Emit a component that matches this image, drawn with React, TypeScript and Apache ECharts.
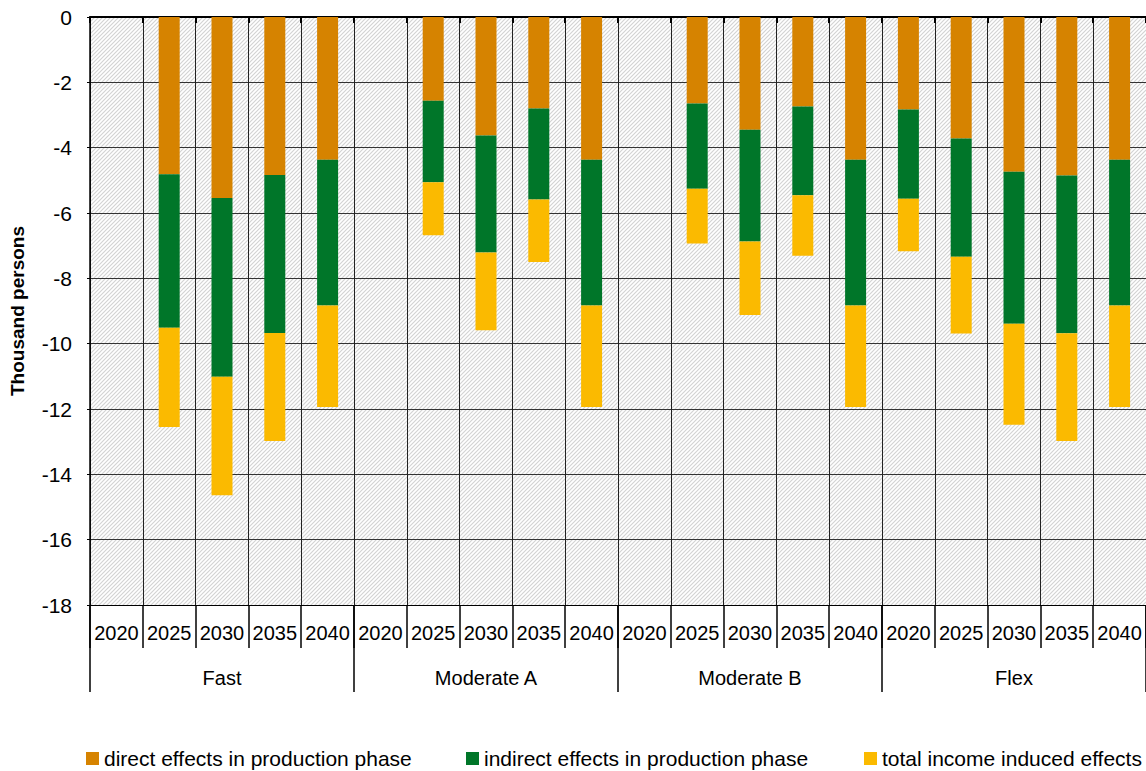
import React, { useEffect, useRef } from 'react';
import * as echarts from 'echarts';

const groups = ['Fast', 'Moderate A', 'Moderate B', 'Flex'];
const years = ['2020', '2025', '2030', '2035', '2040'];

const directEffects = [
  0, -4.81, -5.54, -4.84, -4.37,
  0, -2.56, -3.63, -2.8, -4.37,
  0, -2.65, -3.45, -2.74, -4.37,
  -2.83, -3.72, -4.74, -4.85, -4.37,
];
const indirectEffects = [
  0, -4.7, -5.47, -4.83, -4.46,
  0, -2.5, -3.58, -2.79, -4.46,
  0, -2.61, -3.42, -2.72, -4.46,
  -2.73, -3.62, -4.65, -4.83, -4.46,
];
const inducedEffects = [
  0, -3.04, -3.63, -3.31, -3.11,
  0, -1.62, -2.38, -1.91, -3.11,
  0, -1.67, -2.25, -1.85, -3.11,
  -1.61, -2.35, -3.09, -3.3, -3.11,
];

const seriesNames = [
  'direct effects in production phase',
  'indirect effects in production phase',
  'total income induced effects',
];
const seriesColors = ['#D68300', '#007629', '#FBBA00'];

const yMin = -18;
const yMax = 0;
const yStep = 2;

const FONT = 'Liberation Sans, Arial, sans-serif';

const hatchSvg =
  "<svg xmlns='http://www.w3.org/2000/svg' width='4' height='4'>" +
  "<rect width='4' height='4' fill='white'/>" +
  "<path d='M-1,1 L1,-1 M0,4 L4,0 M3,5 L5,3' stroke='#d2d2d2' stroke-width='1.1'/></svg>";
const hatchUrl = 'data:image/svg+xml;utf8,' + encodeURIComponent(hatchSvg);

export default function App() {
  const ref = useRef<HTMLDivElement>(null);

  useEffect(() => {
    if (!ref.current) return;
    const chart = echarts.init(ref.current, null, { renderer: 'svg' });

    const cats: string[] = [];
    groups.forEach((g) => years.forEach((y) => cats.push(g + '|' + y)));

    const gridLeft = 90;
    const gridTop = 17;
    const gridBottom = 166;
    const W = 1146;
    const H = 771;

    const dataSets = [directEffects, indirectEffects, inducedEffects];

    chart.setOption({
      animation: false,
      backgroundColor: '#ffffff',
      grid: {
        left: gridLeft,
        right: 0,
        top: gridTop,
        bottom: gridBottom,
        containLabel: false,
        outerBoundsMode: 'none',
      },
      graphic: [
        {
          type: 'rect',
          z: -1,
          silent: true,
          shape: { x: gridLeft, y: gridTop, width: W - gridLeft, height: H - gridTop - gridBottom },
          style: { fill: { image: hatchUrl, repeat: 'repeat', imageWidth: 4, imageHeight: 4 } },
        },
      ],
      legend: seriesNames.map((n, i) => ({
        data: [n],
        left: [81, 461, 859][i],
        top: 743,
        icon: 'rect',
        itemWidth: 13,
        itemHeight: 13,
        itemGap: 5,
        textStyle: { fontSize: 21, fontFamily: FONT, color: '#000' },
      })),
      xAxis: [
        {
          type: 'category',
          data: cats,
          position: 'bottom',
          boundaryGap: true,
          axisLine: { show: true, onZero: false, lineStyle: { color: '#000', width: 1 } },
          axisTick: { show: true, interval: 0, length: 43, lineStyle: { color: '#000', width: 1.5 } },
          axisLabel: {
            interval: 0,
            margin: 18,
            fontSize: 20,
            fontFamily: FONT,
            color: '#000',
            formatter: (v: string) => v.split('|')[1],
          },
          splitLine: { show: true, interval: 0, lineStyle: { color: '#222', width: 1 } },
        },
        {
          type: 'category',
          data: groups,
          position: 'bottom',
          boundaryGap: true,
          axisLine: { show: false, onZero: false },
          axisTick: { show: true, interval: 0, length: 87, lineStyle: { color: '#000', width: 1.5 } },
          axisLabel: { interval: 0, margin: 63, fontSize: 20, fontFamily: FONT, color: '#000' },
          splitLine: { show: false },
        },
        {
          type: 'category',
          data: cats,
          position: 'top',
          boundaryGap: true,
          axisLine: { show: true, onZero: false, lineStyle: { color: '#000', width: 2 } },
          axisTick: { show: true, inside: true, interval: 0, length: 6, lineStyle: { color: '#000', width: 2 } },
          axisLabel: { show: false },
          splitLine: { show: false },
        },
      ],
      yAxis: {
        type: 'value',
        min: yMin,
        max: yMax,
        interval: yStep,
        name: 'Thousand persons',
        nameLocation: 'middle',
        nameGap: 63,
        nameRotate: 90,
        nameTextStyle: { fontSize: 19, fontWeight: 'bold', fontFamily: FONT, color: '#000' },
        axisLine: { show: true, lineStyle: { color: '#000', width: 1.5 } },
        axisTick: { show: true, length: 3, lineStyle: { color: '#000' } },
        axisLabel: { fontSize: 21, fontFamily: FONT, color: '#000', margin: 18 },
        splitLine: { show: true, lineStyle: { color: '#333', width: 1 } },
      },
      series: seriesNames.map((n, i) => ({
        name: n,
        type: 'bar',
        stack: 'total',
        xAxisIndex: 0,
        barWidth: 21,
        itemStyle: { color: seriesColors[i] },
        data: dataSets[i],
      })),
    });

    return () => chart.dispose();
  }, []);

  return (
    <div
      ref={ref}
      style={{ position: 'fixed', left: 0, top: 0, width: 1146, height: 771, background: '#fff' }}
    />
  );
}
